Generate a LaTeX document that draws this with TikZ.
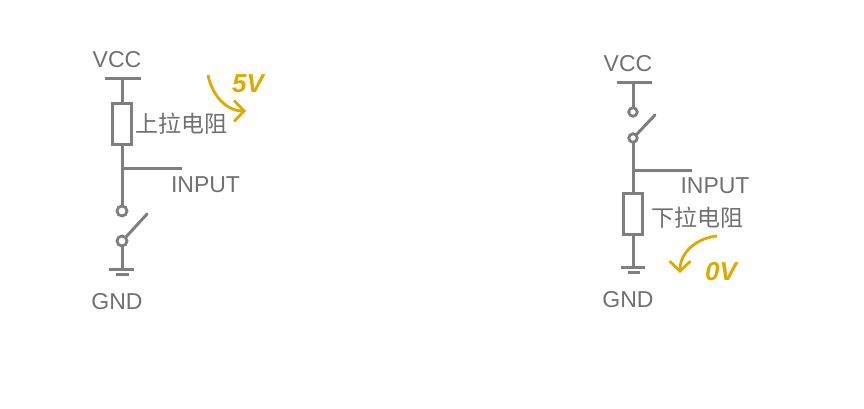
\documentclass[tikz,border=0pt]{standalone}
\usepackage{fontspec}
\setmainfont{Liberation Sans}
\newfontfamily\cjk{Noto Sans CJK SC}
\usetikzlibrary{arrows.meta}
\definecolor{wire}{HTML}{7F7F7F}
\definecolor{lab}{HTML}{707070}
\definecolor{amber}{HTML}{DDAA00}
\tikzset{
  wireline/.style={draw=wire,line width=3pt},
  resbox/.style={draw=wire,line width=3pt,fill=white,minimum width=19pt,minimum height=41pt,inner sep=0pt,outer sep=0pt},
  term/.style={circle,draw=wire,line width=2.8pt,fill=white,minimum size=10pt,inner sep=0pt,outer sep=0pt},
  termb/.style={term,minimum size=8.5pt},
  lbl/.style={text=lab,font=\fontsize{23}{23}\selectfont,inner sep=0pt},
  cjklbl/.style={text=lab,font=\cjk\fontsize{23}{23}\selectfont,inner sep=0pt},
  volt/.style={text=amber,font=\bfseries\itshape\fontsize{26}{26}\selectfont,inner sep=0pt},
  flow/.style={draw=amber,line width=2.8pt,-{Straight Barb[length=10pt,width=21pt,line width=2.8pt]}},
}
\begin{document}
\begin{tikzpicture}[x=1pt,y=-1pt]
\useasboundingbox (0,0) rectangle (864,408);
% Left circuit
\node[lbl] (vccL) at (117,60) {VCC};
\coordinate (barLa) at (105,78);
\coordinate (barLb) at (141,78);
\coordinate (barLm) at (122,78);
\node[resbox] (resL) at (122,123.5) {};
\coordinate (jL) at (122,168);
\coordinate (inL) at (182,168);
\node[term] (t1L) at (122,211) {};
\node[term] (t2L) at (122,241) {};
\coordinate (armL) at (147,214);
\coordinate (gndL) at (122,269);
\coordinate (g1a) at (109,269);
\coordinate (g1b) at (134,269);
\coordinate (g2a) at (116,274);
\coordinate (g2b) at (129,274);
\node[lbl] (inputL) at (205.5,185) {INPUT};
\node[lbl] (gndtL) at (117,302) {GND};
\node[cjklbl] (upL) at (181.5,124) {上拉电阻};
\coordinate (fa) at (208,75);
\coordinate (fb) at (246,111);
\node[volt] (v5) at (248,84) {5V};
\draw[wireline] (barLa) -- (barLb);
\draw[wireline] (barLm) -- (resL.north);
\draw[wireline] (resL.south) -- (t1L.north);
\draw[wireline] (jL) -- (inL);
\draw[wireline] (t2L.south) -- (gndL);
\draw[wireline,line cap=round] (t2L.45) -- (armL);
\draw[wireline] (g1a) -- (g1b);
\draw[wireline] (g2a) -- (g2b);
\draw[flow] (fa) .. controls (212,95) and (226,111) .. (fb);
% Right circuit
\node[lbl] (vccR) at (628,64) {VCC};
\coordinate (barRa) at (617,82);
\coordinate (barRb) at (652,82);
\coordinate (barRm) at (633,82);
\node[termb] (t1R) at (633,112) {};
\node[termb] (t2R) at (633,138) {};
\coordinate (armR) at (655,115);
\coordinate (jR) at (633,170);
\coordinate (inR) at (692,170);
\node[resbox] (resR) at (633,214) {};
\coordinate (gndR) at (633,267);
\coordinate (h1a) at (621,267);
\coordinate (h1b) at (645,267);
\coordinate (h2a) at (628,272);
\coordinate (h2b) at (640,272);
\node[lbl] (inputR) at (715,186) {INPUT};
\node[lbl] (gndtR) at (628,300) {GND};
\node[cjklbl] (downR) at (697,218) {下拉电阻};
\coordinate (ha) at (717,236);
\coordinate (hb) at (680,273);
\node[volt] (v0) at (721,272) {0V};
\draw[wireline] (barRa) -- (barRb);
\draw[wireline] (barRm) -- (t1R.north);
\draw[wireline,line cap=round] (t2R.45) -- (armR);
\draw[wireline] (t2R.south) -- (resR.north);
\draw[wireline] (jR) -- (inR);
\draw[wireline] (resR.south) -- (gndR);
\draw[wireline] (h1a) -- (h1b);
\draw[wireline] (h2a) -- (h2b);
\draw[flow] (ha) .. controls (697,238) and (680,252) .. (hb);
\end{tikzpicture}
\end{document}
